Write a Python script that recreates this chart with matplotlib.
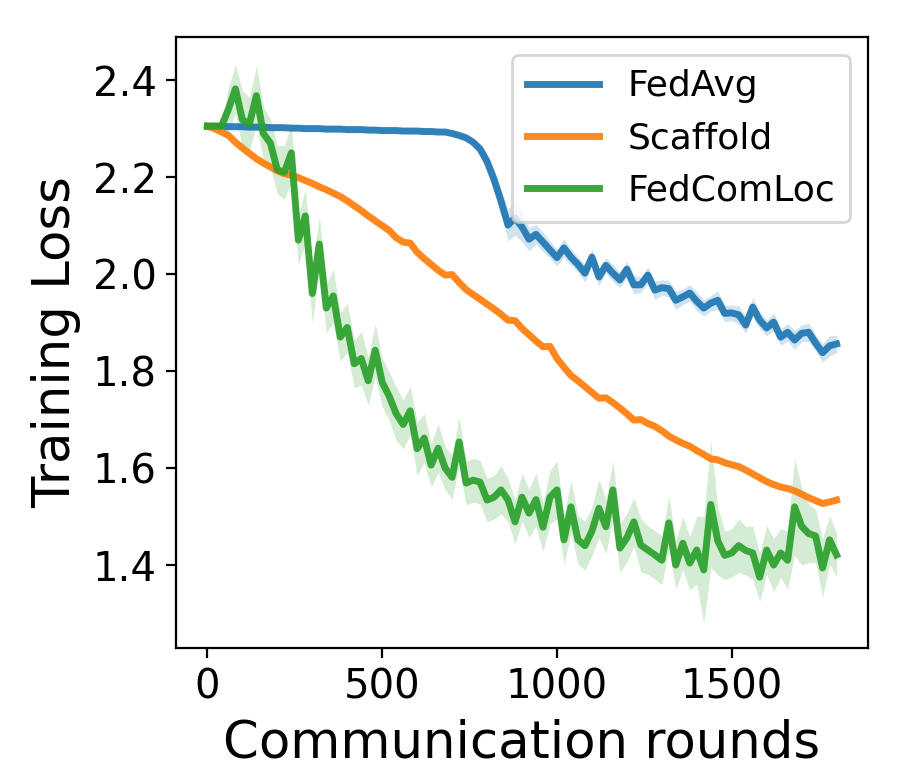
import numpy as np
import matplotlib
matplotlib.use("Agg")
import matplotlib.pyplot as plt

rounds = np.arange(0, 1801, 20)

fedavg = [2.305, 2.305, 2.305, 2.304, 2.304, 2.304, 2.303, 2.303, 2.303, 2.302,
          2.302, 2.302, 2.301, 2.301, 2.300, 2.300, 2.300, 2.299, 2.299, 2.299,
          2.298, 2.298, 2.298, 2.297, 2.297, 2.296, 2.296, 2.296, 2.295, 2.295,
          2.295, 2.294, 2.294, 2.293, 2.293, 2.290, 2.286, 2.281, 2.272, 2.258,
          2.232, 2.195, 2.150, 2.101, 2.116, 2.097, 2.072, 2.082, 2.066, 2.050,
          2.034, 2.054, 2.035, 2.020, 2.002, 2.035, 1.994, 2.018, 2.002, 1.988,
          2.010, 1.978, 1.978, 1.998, 1.967, 1.972, 1.970, 1.946, 1.953, 1.961,
          1.944, 1.930, 1.940, 1.946, 1.919, 1.920, 1.916, 1.895, 1.932, 1.905,
          1.889, 1.901, 1.870, 1.880, 1.864, 1.878, 1.880, 1.858, 1.838, 1.852,
          1.856]
fedavg_std = [0.0] * 35 + [0.002, 0.003, 0.004, 0.006, 0.010, 0.015, 0.020, 0.025,
              0.032, 0.036, 0.030, 0.024, 0.020, 0.020, 0.018, 0.017, 0.019, 0.017,
              0.016, 0.018, 0.016, 0.018, 0.016, 0.018, 0.016, 0.017, 0.019, 0.016,
              0.017, 0.019, 0.016, 0.017, 0.019, 0.016, 0.017, 0.020, 0.017, 0.016,
              0.019, 0.017, 0.016, 0.019, 0.017, 0.020, 0.018, 0.016, 0.019, 0.017,
              0.018, 0.020, 0.017, 0.019, 0.017, 0.019, 0.021, 0.018]

scaffold = [2.305, 2.300, 2.293, 2.286, 2.272, 2.260, 2.249, 2.238, 2.229, 2.221,
            2.213, 2.207, 2.204, 2.199, 2.193, 2.187, 2.180, 2.174, 2.167, 2.160,
            2.151, 2.141, 2.131, 2.120, 2.110, 2.100, 2.090, 2.075, 2.066, 2.064,
            2.045, 2.032, 2.020, 2.008, 1.998, 1.999, 1.983, 1.968, 1.958, 1.948,
            1.938, 1.928, 1.917, 1.905, 1.904, 1.888, 1.875, 1.862, 1.850, 1.851,
            1.826, 1.808, 1.791, 1.780, 1.768, 1.756, 1.744, 1.745, 1.735, 1.724,
            1.712, 1.699, 1.700, 1.692, 1.686, 1.677, 1.666, 1.658, 1.651, 1.645,
            1.636, 1.628, 1.619, 1.617, 1.611, 1.607, 1.603, 1.596, 1.588, 1.580,
            1.572, 1.566, 1.561, 1.558, 1.553, 1.546, 1.539, 1.533, 1.527, 1.530,
            1.534]
scaffold_std = [0.0] * 5 + [0.005] * 86

fedcomloc = [2.305, 2.305, 2.305, 2.340, 2.382, 2.318, 2.310, 2.368, 2.290, 2.270,
             2.215, 2.210, 2.250, 2.070, 2.120, 1.960, 2.062, 1.930, 1.955, 1.870,
             1.890, 1.815, 1.826, 1.780, 1.843, 1.777, 1.748, 1.712, 1.690, 1.718,
             1.640, 1.662, 1.606, 1.641, 1.600, 1.581, 1.654, 1.569, 1.575, 1.571,
             1.534, 1.540, 1.555, 1.534, 1.489, 1.540, 1.507, 1.535, 1.478, 1.540,
             1.555, 1.452, 1.520, 1.452, 1.440, 1.470, 1.517, 1.479, 1.555, 1.435,
             1.456, 1.489, 1.441, 1.431, 1.421, 1.410, 1.487, 1.400, 1.445, 1.404,
             1.431, 1.390, 1.525, 1.450, 1.420, 1.425, 1.440, 1.430, 1.425, 1.375,
             1.431, 1.400, 1.425, 1.410, 1.520, 1.480, 1.465, 1.460, 1.394, 1.452,
             1.421]
fedcomloc_std = [0.0, 0.0, 0.008, 0.045, 0.05, 0.06, 0.055, 0.062, 0.055, 0.05,
                 0.05, 0.055, 0.06, 0.05, 0.055, 0.06, 0.055, 0.05, 0.055, 0.05,
                 0.05, 0.05, 0.055, 0.05, 0.055, 0.05, 0.05, 0.055, 0.05, 0.05,
                 0.055, 0.05, 0.045, 0.05, 0.045, 0.045, 0.05, 0.045, 0.045, 0.045,
                 0.045, 0.045, 0.05, 0.045, 0.045, 0.05, 0.05, 0.055, 0.05, 0.055,
                 0.06, 0.05, 0.055, 0.05, 0.05, 0.05, 0.06, 0.055, 0.06, 0.05,
                 0.05, 0.05, 0.055, 0.05, 0.05, 0.05, 0.055, 0.05, 0.055, 0.055,
                 0.07, 0.11, 0.13, 0.07, 0.05, 0.05, 0.055, 0.05, 0.055, 0.05,
                 0.05, 0.055, 0.05, 0.06, 0.10, 0.08, 0.06, 0.055, 0.06, 0.05,
                 0.045]

series = [("FedAvg", fedavg, fedavg_std, "tab:blue"),
          ("Scaffold", scaffold, scaffold_std, "tab:orange"),
          ("FedComLoc", fedcomloc, fedcomloc_std, "tab:green")]

fig, ax = plt.subplots(figsize=(4.52, 3.91), dpi=200)
fig.subplots_adjust(left=0.1947, right=0.9602, top=0.9527, bottom=0.1714)

for name, mean, std, col in series:
    mean = np.array(mean)
    std = np.array(std)
    ax.plot(rounds, mean, color=col, lw=2.5, alpha=0.92, label=name)
    ax.fill_between(rounds, mean - std, mean + std, color=col, alpha=0.2, lw=0)

ax.set_ylim(1.229, 2.489)
ax.set_xticks([0, 500, 1000, 1500])
ax.set_yticks([1.4, 1.6, 1.8, 2.0, 2.2, 2.4])
ax.tick_params(labelsize=14.5)
ax.set_xlabel("Communication rounds", fontsize=18.5)
ax.set_ylabel("Training Loss", fontsize=18.5)
ax.legend(loc="upper right", fontsize=13)

fig.savefig("out.png", dpi=200)
